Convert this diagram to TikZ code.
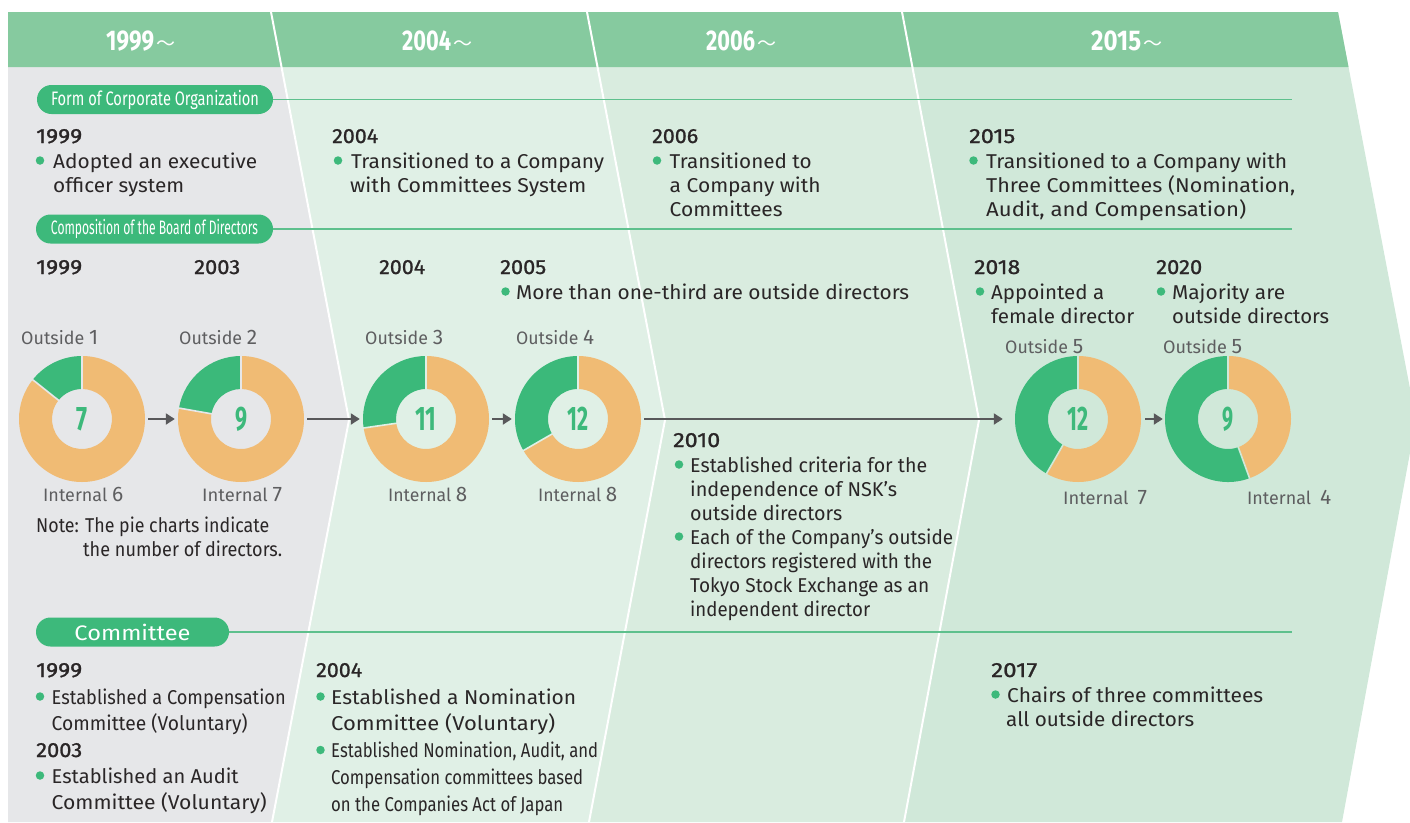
\documentclass[tikz,border=0pt]{standalone}
\usepackage{fontspec}
\usepackage{graphicx}
\setmainfont{Fira Sans}
\newfontfamily\yearfont{Fira Sans}[FakeBold=1]
\newfontfamily\cjk{Noto Sans CJK JP}
\usetikzlibrary{arrows.meta}
\definecolor{hdr}{HTML}{86CA9F}
\definecolor{cA}{HTML}{E6E7E9}
\definecolor{cB}{HTML}{E0F0E6}
\definecolor{cC}{HTML}{D9ECDF}
\definecolor{cD}{HTML}{D0E8D9}
\definecolor{gr}{HTML}{3DB97B}
\definecolor{ln}{HTML}{5EC08D}
\definecolor{pg}{HTML}{3BB97A}
\definecolor{po}{HTML}{F0BB74}
\definecolor{tx}{HTML}{2A2627}
\definecolor{lb}{HTML}{5E5E60}
\definecolor{ar}{HTML}{58585A}
\newcommand\tl[2]{\resizebox{#1pt}{\height}{#2}}
\newcommand\donut[5]{%
  \pgfmathsetmacro\ea{270-360*#3/#4}%
  \fill[po] (#1,#2) ++(-90:63) arc[start angle=-90,end angle=\ea,radius=63] -- ++(\ea:-33) arc[start angle=\ea,end angle=-90,radius=30] -- cycle;
  \fill[pg] (#1,#2) ++(\ea:63) arc[start angle=\ea,end angle=270,radius=63] -- ++(270:-33) arc[start angle=270,end angle=\ea,radius=30] -- cycle;
  \draw[#5, line width=1.6pt] (#1,#2) ++(-90:29) -- ++(-90:35);
  \draw[#5, line width=1.6pt] (#1,#2) ++(\ea:29) -- ++(\ea:35);
}
\begin{document}
\begin{tikzpicture}[x=1pt,y=-1pt,
  txt/.style={anchor=base west, inner sep=0pt, text=tx, font=\fontsize{20}{24}\selectfont},
  yr/.style={anchor=base west, inner sep=0pt, text=tx, font=\yearfont\fontsize{20.5}{24}\selectfont},
  lbl/.style={anchor=base west, inner sep=0pt, text=lb, font=\fontsize{18}{20}\selectfont},
  hyr/.style={anchor=base west, inner sep=0pt, text=white, font=\bfseries\fontsize{28.5}{30}\selectfont},
  dot/.style={circle, fill=gr, inner sep=0pt, minimum size=8.5pt},
  pill/.style={fill=gr, rounded corners=14.5pt, minimum height=29pt, inner sep=0pt, text=white},
  sect/.style={draw=ln, line width=1.6pt},
  pie/.style={circle, minimum size=126pt, inner sep=0pt},
  pnum/.style={inner sep=0pt, text=gr, font=\bfseries\fontsize{34}{34}\selectfont},
  arr/.style={draw=ar, line width=2pt, -{Triangle[length=9pt,width=11pt]}},
  div/.style={draw=white, line width=2pt}]
\useasboundingbox (0,0) rectangle (1410,822);
\clip (0,0) rectangle (1410,822);
% column backgrounds
\fill[cA] (8,12) -- (271,12) -- (349,420) -- (272,822) -- (8,822) -- cycle;
\fill[cB] (271,12) -- (587,12) -- (665,420) -- (589,822) -- (272,822) -- (349,420) -- cycle;
\fill[cC] (587,12) -- (902,12) -- (979,420) -- (904,822) -- (589,822) -- (665,420) -- cycle;
\fill[cD] (902,12) -- (1338,12) -- (1416,420) -- (1342,822) -- (904,822) -- (979,420) -- cycle;
% header
\fill[hdr] (8,12) -- (1338,12) -- (1348.5,67) -- (8,67) -- cycle;
\draw[div] (271,12) -- (349,420) -- (272,822);
\draw[div] (587,12) -- (665,420) -- (589,822);
\draw[div] (902,12) -- (979,420) -- (904,822);
\node[hyr] (h1) at (106,50.5) {\tl{48}{1999}\hspace{2pt}{\cjk\mdseries\fontsize{19}{19}\selectfont ～}};
\node[hyr] (h2) at (402,50.5) {\tl{49}{2004}\hspace{2pt}{\cjk\mdseries\fontsize{19}{19}\selectfont ～}};
\node[hyr] (h3) at (706,50.5) {\tl{49}{2006}\hspace{2pt}{\cjk\mdseries\fontsize{19}{19}\selectfont ～}};
\node[hyr] (h4) at (1091,50.5) {\tl{50}{2015}\hspace{2pt}{\cjk\mdseries\fontsize{19}{19}\selectfont ～}};
% section pills and lines
\node[pill, minimum width=236pt] (s1) at (155,99.5) {\fontsize{19.5}{19.5}\selectfont\tl{208}{Form of Corporate Organization}};
\coordinate (e1) at (1292,99.5);
\draw[sect] (s1.east) -- (e1);
\node[pill, minimum width=237pt] (s2) at (154.5,229) {\fontsize{19.5}{19.5}\selectfont\tl{207}{Composition of the Board of Directors}};
\coordinate (e2) at (1292,229);
\draw[sect] (s2.east) -- (e2);
\node[pill, minimum width=193pt] (s3) at (132.5,632) {\fontsize{21}{21}\selectfont\tl{116}{Committee}};
\coordinate (e3) at (1292,632);
\draw[sect] (s3.east) -- (e3);
% form of corporate organization
\node[yr] (fy1) at (36,143) {\tl{46}{1999}};
\node[dot] (fb1) at (40,160.5) {};
\node[txt] (ft1a) at (53,168) {\tl{204}{Adopted an executive}};
\node[txt] (ft1b) at (53,192) {\tl{131}{officer system}};
\node[yr] (fy2) at (332,143) {\tl{46}{2004}};
\node[dot] (fb2) at (338,160.5) {};
\node[txt] (ft2a) at (351,168) {\tl{253}{Transitioned to a Company}};
\node[txt] (ft2b) at (350,192) {\tl{236}{with Committees System}};
\node[yr] (fy3) at (652,143) {\tl{46}{2006}};
\node[dot] (fb3) at (657,160.5) {};
\node[txt] (ft3a) at (669.5,168) {\tl{142}{Transitioned to}};
\node[txt] (ft3b) at (669.5,192) {\tl{151}{a Company with}};
\node[txt] (ft3c) at (669.5,216) {\tl{113}{Committees}};
\node[yr] (fy4) at (969,143) {\tl{46}{2015}};
\node[dot] (fb4) at (973.5,160.5) {};
\node[txt] (ft4a) at (986,168) {\tl{301}{Transitioned to a Company with}};
\node[txt] (ft4b) at (986,192) {\tl{309}{Three Committees (Nomination,}};
\node[txt] (ft4c) at (986,216) {\tl{260}{Audit, and Compensation)}};
% composition
\node[yr] (cy1) at (36,274) {\tl{46}{1999}};
\node[yr] (cy2) at (194,274) {\tl{46}{2003}};
\node[yr] (cy3) at (379,274) {\tl{46}{2004}};
\node[yr] (cy4) at (500,274) {\tl{46}{2005}};
\node[dot] (cb4) at (505.5,291.5) {};
\node[txt] (ct4) at (516,299) {\tl{393}{More than one-third are outside directors}};
\node[yr] (cy5) at (974,274) {\tl{46}{2018}};
\node[dot] (cb5) at (980,291.5) {};
\node[txt] (ct5a) at (991,299) {\tl{113}{Appointed a}};
\node[txt] (ct5b) at (991,323) {\tl{143}{female director}};
\node[yr] (cy6) at (1156,274) {\tl{46}{2020}};
\node[dot] (cb6) at (1161,291.5) {};
\node[txt] (ct6a) at (1172,299) {\tl{113}{Majority are}};
\node[txt] (ct6b) at (1172,323) {\tl{157}{outside directors}};
% donuts
\donut{82}{419}{1}{7}{cA}
\donut{241}{419}{2}{9}{cA}
\donut{426}{419}{3}{11}{cB}
\donut{578}{419}{4}{12}{cB}
\donut{1078}{419}{5}{12}{cD}
\donut{1228}{419}{5}{9}{cD}
\node[pie] (p1) at (82,419) {};
\node[pie] (p2) at (241,419) {};
\node[pie] (p3) at (426,419) {};
\node[pie] (p4) at (578,419) {};
\node[pie] (p5) at (1078,419) {};
\node[pie] (p6) at (1228,419) {};
\node[pnum] (n1) at (p1) {\tl{11}{7}};
\node[pnum] (n2) at (p2) {\tl{12}{9}};
\node[pnum] (n3) at (p3) {\tl{21}{11}};
\node[pnum] (n4) at (p4) {\tl{21}{12}};
\node[pnum] (n5) at (p5) {\tl{21}{12}};
\node[pnum] (n6) at (p6) {\tl{11}{9}};
\draw[arr, shorten <=3pt, shorten >=3pt] (p1.east) -- (p2.west);
\draw[arr, shorten <=3pt, shorten >=3pt] (p2.east) -- (p3.west);
\draw[arr, shorten <=3pt, shorten >=3pt] (p3.east) -- (p4.west);
\draw[arr, shorten <=3pt, shorten >=12pt] (p4.east) -- (p5.west);
\draw[arr, shorten <=4pt, shorten >=2pt] (p5.east) -- (p6.west);
\node[lbl] (o1) at (21,344) {\tl{77}{Outside {\fontsize{21}{21}\selectfont 1}}};
\node[lbl] (i1) at (43,501) {\tl{80}{Internal {\fontsize{21}{21}\selectfont 6}}};
\node[lbl] (o2) at (179,344) {\tl{78}{Outside {\fontsize{21}{21}\selectfont 2}}};
\node[lbl] (i2) at (202,501) {\tl{80}{Internal {\fontsize{21}{21}\selectfont 7}}};
\node[lbl] (o3) at (365,344) {\tl{78}{Outside {\fontsize{21}{21}\selectfont 3}}};
\node[lbl] (i3) at (388,501) {\tl{79}{Internal {\fontsize{21}{21}\selectfont 8}}};
\node[lbl] (o4) at (516,344) {\tl{78}{Outside {\fontsize{21}{21}\selectfont 4}}};
\node[lbl] (i4) at (538,501) {\tl{79}{Internal {\fontsize{21}{21}\selectfont 8}}};
\node[lbl] (o5) at (1005,353) {\tl{78}{Outside {\fontsize{21}{21}\selectfont 5}}};
\node[lbl] (i5) at (1063,504) {\tl{84}{Internal\enspace{\fontsize{21}{21}\selectfont 7}}};
\node[lbl] (o6) at (1163,353) {\tl{79}{Outside {\fontsize{21}{21}\selectfont 5}}};
\node[lbl] (i6) at (1247,504) {\tl{84}{Internal\enspace{\fontsize{21}{21}\selectfont 4}}};
\node[txt] (nt1) at (36,532) {\tl{233}{Note: The pie charts indicate}};
\node[txt] (nt2) at (83,556) {\tl{199}{the number of directors.}};
% 2010
\node[yr] (ty) at (673,447) {\tl{47}{2010}};
\node[dot] (tb1) at (679,464.5) {};
\node[txt] (tt1) at (690,472) {\tl{237}{Established criteria for the}};
\node[txt] (tt2) at (690,496) {\tl{207}{independence of NSK’s}};
\node[txt] (tt3) at (690,520) {\tl{152}{outside directors}};
\node[dot] (tb2) at (679,536.5) {};
\node[txt] (tt4) at (690,544) {\tl{263}{Each of the Company’s outside}};
\node[txt] (tt5) at (690,568) {\tl{242}{directors registered with the}};
\node[txt] (tt6) at (690,592) {\tl{239}{Tokyo Stock Exchange as an}};
\node[txt] (tt7) at (690,616) {\tl{180}{independent director}};
% committee
\node[yr] (my1) at (36,677) {\tl{46}{1999}};
\node[dot] (mb1) at (40,696.5) {};
\node[txt] (mt1a) at (51.5,704) {\tl{234}{Established a Compensation}};
\node[txt] (mt1b) at (51.5,730) {\tl{196}{Committee (Voluntary)}};
\node[yr] (my2) at (36,757) {\tl{46}{2003}};
\node[dot] (mb2) at (40,775.5) {};
\node[txt] (mt2a) at (51.5,783) {\tl{187}{Established an Audit}};
\node[txt] (mt2b) at (51.5,809) {\tl{215}{Committee (Voluntary)}};
\node[yr] (my3) at (316,677) {\tl{46}{2004}};
\node[dot] (mb3) at (320.5,696.5) {};
\node[txt] (mt3a) at (331,704) {\tl{245}{Established a Nomination}};
\node[txt] (mt3b) at (331,730) {\tl{224}{Committee (Voluntary)}};
\node[dot] (mb4) at (320.5,750) {};
\node[txt] (mt4a) at (331,757) {\tl{267}{Established Nomination, Audit, and}};
\node[txt] (mt4b) at (331,784) {\tl{252}{Compensation committees based}};
\node[txt] (mt4c) at (331,811) {\tl{232}{on the Companies Act of Japan}};
\node[yr] (my4) at (991,677) {\tl{46}{2017}};
\node[dot] (mb5) at (995.5,694.5) {};
\node[txt] (mt5a) at (1007,702) {\tl{256}{Chairs of three committees}};
\node[txt] (mt5b) at (1006,726) {\tl{188}{all outside directors}};
\end{tikzpicture}
\end{document}
